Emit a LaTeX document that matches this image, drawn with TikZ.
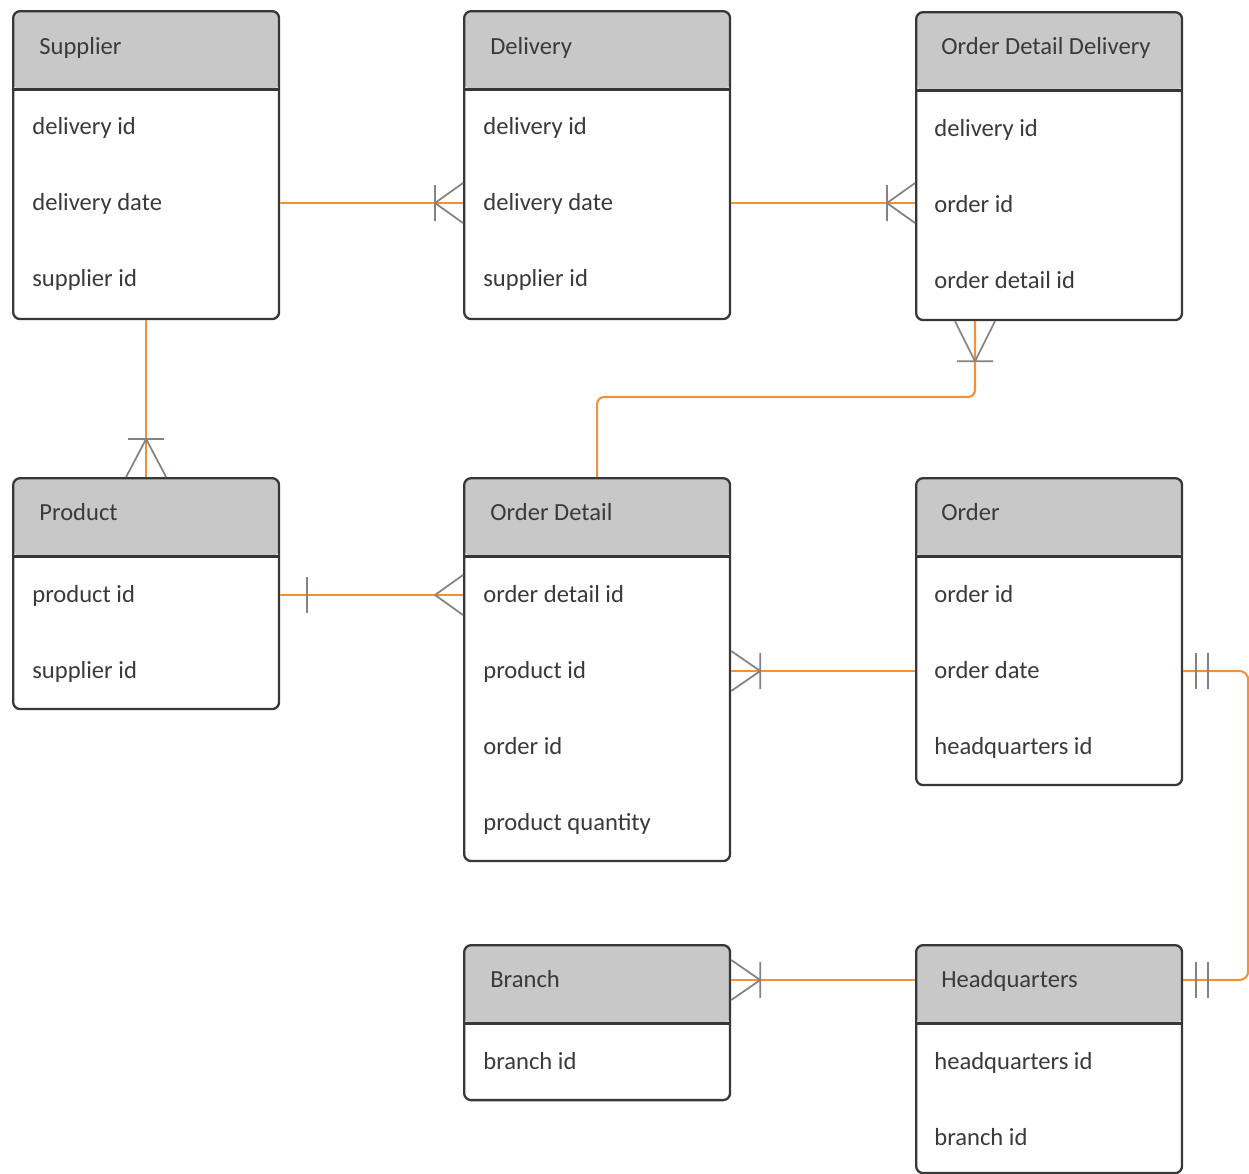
\documentclass[tikz,border=0pt]{standalone}
\usepackage{fontspec}
\setmainfont{Carlito}
\usetikzlibrary{
    positioning,
    arrows.meta
}
\definecolor{BoxLine}{RGB}{55,55,55}
\definecolor{HeadGray}{RGB}{200,200,200}
\definecolor{LinkOrange}{RGB}{240,145,60}
\definecolor{TipGray}{RGB}{135,130,125}
\definecolor{TextGray}{RGB}{58,58,58}

\begin{document}
\begin{tikzpicture}[
    x=0.02cm, y=-0.02cm,
    tbl/.style={rectangle, draw=BoxLine, line width=1.3pt, rounded corners=4pt, fill=white, anchor=north west, minimum width=5.32cm, inner sep=0pt,
        path picture={\fill[HeadGray] (path picture bounding box.north west) rectangle ([yshift=-1.56cm]path picture bounding box.north east);
            \draw[BoxLine, line width=1.6pt] ([yshift=-1.56cm]path picture bounding box.north west) -- ([yshift=-1.56cm]path picture bounding box.north east);}},
    ttl/.style={anchor=west, inner sep=0pt, font=\fontsize{14}{16}\selectfont, text=TextGray, text height=2.1ex, text depth=.3ex},
    fld/.style={ttl},
    rel/.style={draw=LinkOrange, line width=1.2pt},
    prong/.style={draw=TipGray, line width=1pt},
    pics/crowfoot/.style={code={\draw[prong] (-#1,0) -- (0,-20) (-#1,0) -- (0,20) (-#1,-18) -- (-#1,18);}},
    pics/crowopen/.style={code={\draw[prong] (-#1,0) -- (0,-20) (-#1,0) -- (0,20);}},
    pics/onebar/.style={code={\draw[prong] (-#1,-18) -- (-#1,18);}},
    pics/twobar/.style={code={\draw[prong] (-13,-18) -- (-13,18) (-25,-18) -- (-25,18);}},
]
\useasboundingbox (0,0) rectangle (1249,1174);

% tables
\node[tbl, minimum height=6.16cm] (sup) at (12,10) {};
\node[tbl, minimum height=6.16cm] (del) at (463,10) {};
\node[tbl, minimum height=6.16cm] (odd) at (915,11) {};
\node[tbl, minimum height=4.62cm] (prod) at (12,477) {};
\node[tbl, minimum height=7.66cm] (od) at (463,477) {};
\node[tbl, minimum height=6.14cm] (ord) at (915,477) {};
\node[tbl, minimum height=3.10cm] (br) at (463,944) {};
\node[tbl, minimum height=4.56cm] (hq) at (915,944) {};

% titles
\node[ttl] (sup-t) at (39,47) {Supplier};
\node[ttl] (del-t) at (490,47) {Delivery};
\node[ttl] (odd-t) at (941,47) {Order Detail Delivery};
\node[ttl] (prod-t) at (39,513) {Product};
\node[ttl] (od-t) at (490,513) {Order Detail};
\node[ttl] (ord-t) at (941,513) {Order};
\node[ttl] (br-t) at (490,980) {Branch};
\node[ttl] (hq-t) at (941,980) {Headquarters};

% fields
\node[fld] (sup-1) at (32,127) {delivery id};
\node[fld] (sup-2) at (32,203) {delivery date};
\node[fld] (sup-3) at (32,279) {supplier id};
\node[fld] (del-1) at (483,127) {delivery id};
\node[fld] (del-2) at (483,203) {delivery date};
\node[fld] (del-3) at (483,279) {supplier id};
\node[fld] (odd-1) at (934,129) {delivery id};
\node[fld] (odd-2) at (934,205) {order id};
\node[fld] (odd-3) at (934,281) {order detail id};
\node[fld] (prod-1) at (32,595) {product id};
\node[fld] (prod-2) at (32,671) {supplier id};
\node[fld] (od-1) at (483,595) {order detail id};
\node[fld] (od-2) at (483,671) {product id};
\node[fld] (od-3) at (483,747) {order id};
\node[fld] (od-4) at (483,823) {product quantity};
\node[fld] (ord-1) at (934,595) {order id};
\node[fld] (ord-2) at (934,671) {order date};
\node[fld] (ord-3) at (934,747) {headquarters id};
\node[fld] (br-1) at (483,1062) {branch id};
\node[fld] (hq-1) at (934,1062) {headquarters id};
\node[fld] (hq-2) at (934,1138) {branch id};

% relations
\draw[rel] (sup.east |- sup-2) -- (del.west |- sup-2);
\pic at (del.west |- sup-2) {crowfoot=28};
\draw[rel] (del.east |- del-2) -- (odd.west |- del-2);
\pic at (odd.west |- del-2) {crowfoot=28};
\draw[rel] (sup.south) -- (prod.north);
\pic[rotate=-90] at (prod.north) {crowfoot=38};
\coordinate (bend) at (975,397);
\draw[rel, rounded corners=4pt] (od.north) |- (bend) -- (bend |- odd.south);
\pic[rotate=90] at (bend |- odd.south) {crowfoot=40};
\draw[rel] (prod.east |- prod-1) -- (od.west |- prod-1);
\pic at (od.west |- prod-1) {crowopen=28};
\pic[rotate=180] at (prod.east |- prod-1) {onebar=27};
\draw[rel] (ord.west |- ord-2) -- (od.east |- ord-2);
\pic[rotate=180] at (od.east |- ord-2) {crowfoot=29};
\draw[rel, rounded corners=5pt] (ord.east |- ord-2) -- ++(65,0) |- (hq.east |- hq-t);
\pic[rotate=180] at (ord.east |- ord-2) {twobar};
\pic[rotate=180] at (hq.east |- hq-t) {twobar};
\draw[rel] (hq.west |- hq-t) -- (br.east |- hq-t);
\pic[rotate=180] at (br.east |- hq-t) {crowfoot=29};
\end{tikzpicture}
\end{document}
